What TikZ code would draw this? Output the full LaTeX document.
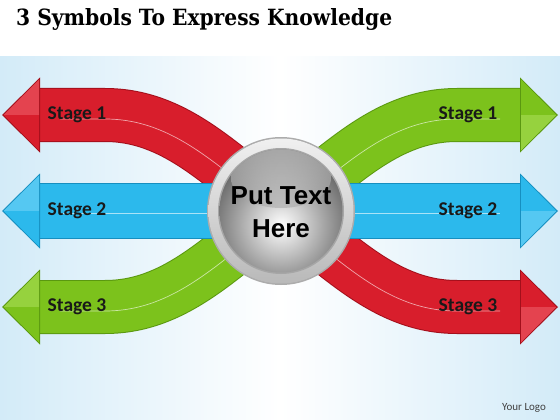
\documentclass[tikz,border=0pt]{standalone}
\usepackage{fontspec}
\usepackage{graphicx}
\setmainfont{Carlito}
\newfontfamily\titlefont{DejaVu Serif Condensed}
\newfontfamily\centerfont{Liberation Sans}
\usetikzlibrary{calc}
\definecolor{redA}{HTML}{D81E2C}
\definecolor{redL}{HTML}{E4434F}
\definecolor{redD}{HTML}{A30F1B}
\definecolor{grnA}{HTML}{7CC21C}
\definecolor{grnL}{HTML}{96D23E}
\definecolor{grnD}{HTML}{5A9810}
\definecolor{bluA}{HTML}{2CB9EC}
\definecolor{bluL}{HTML}{55C8F2}
\definecolor{bluD}{HTML}{168FC0}
\definecolor{bgblue}{HTML}{D3EBF8}
\tikzset{
  bandedge/.style={line width=54pt},
  bandfill/.style={line width=52pt},
  gloss/.style={white, opacity=0.6, line width=0.7pt},
  stagelbl/.style={font=\bfseries\fontsize{19.5}{19.5}\selectfont, text=black!90},
}
\newcommand{\headL}[5]{% tip x, y, main, light, dark
  \fill[#5] (#1-1,#2) -- (#1+37,#2-37.5) -- (#1+37,#2+37.5) -- cycle;
  \fill[#3] (#1+0.6,#2) -- (#1+36,#2-35.5) -- (#1+36,#2) -- cycle;
  \fill[#4] (#1+0.6,#2) -- (#1+36,#2) -- (#1+36,#2+35.5) -- cycle;
}
\newcommand{\headR}[5]{%
  \fill[#5] (#1+1,#2) -- (#1-37,#2-37.5) -- (#1-37,#2+37.5) -- cycle;
  \fill[#3] (#1-0.6,#2) -- (#1-36,#2-35.5) -- (#1-36,#2) -- cycle;
  \fill[#4] (#1-0.6,#2) -- (#1-36,#2) -- (#1-36,#2+35.5) -- cycle;
}
\begin{document}
\begin{tikzpicture}[x=1pt,y=-1pt]
\useasboundingbox (0,0) rectangle (560,420);
% background
\fill[white] (0,0) rectangle (560,420);
\shade[left color=bgblue, right color=bgblue, middle color=white] (0,57) rectangle (560,420);
% red band
\draw[redD, bandedge] (39,115) -- (105,115) .. controls (175,115) and (220,165) .. (281,211) .. controls (342,257) and (387,307) .. (457,307) -- (521,307);
\draw[redA, bandfill] (39,115) -- (105,115) .. controls (175,115) and (220,165) .. (281,211) .. controls (342,257) and (387,307) .. (457,307) -- (521,307);
\draw[gloss] (60,119) -- (105,119) .. controls (175,119) and (220,169) .. (281,215) .. controls (342,261) and (387,311) .. (457,311) -- (500,311);
\headL{3}{115}{redL}{redA}{redD}
\headR{557}{307}{redA}{redL}{redD}
% green band
\draw[grnD, bandedge] (521,115) -- (457,115) .. controls (387,115) and (342,165) .. (281,211) .. controls (220,257) and (175,307) .. (105,307) -- (39,307);
\draw[grnA, bandfill] (521,115) -- (457,115) .. controls (387,115) and (342,165) .. (281,211) .. controls (220,257) and (175,307) .. (105,307) -- (39,307);
\draw[gloss] (500,119) -- (457,119) .. controls (387,119) and (342,169) .. (281,215) .. controls (220,261) and (175,311) .. (105,311) -- (60,311);
\headL{3}{307}{grnL}{grnA}{grnD}
\headR{557}{115}{grnA}{grnL}{grnD}
% blue band
\fill[bluD] (39,183) rectangle (521,239);
\fill[bluA] (39,184) rectangle (521,238);
\draw[gloss] (60,213) -- (500,213);
\headL{3}{211}{bluL}{bluA}{bluD}
\headR{557}{211}{bluA}{bluL}{bluD}
% center disc
\coordinate (c) at (281,211);
\fill[gray!65] (c) circle (74);
\shade[top color=gray!12, bottom color=gray!55] (c) circle (72.5);
\fill[gray!70] (c) circle (63);
\begin{scope}
  \clip (c) circle (61.5);
  \shade[inner color=white, outer color=black!72] ($(c)+(0,14)$) circle (88);
  \shade[top color=white, bottom color=white!20!gray, opacity=0.45] (281,178) ellipse (50 and 30);
\end{scope}
% texts
\node[anchor=base west, inner sep=0pt] (title) at (16,26) {\resizebox{376pt}{17pt}{\titlefont\bfseries 3 Symbols To Express Knowledge}};
\node[align=center, font=\centerfont\bfseries\fontsize{26}{33}\selectfont, text=black] (ctext) at (281,212) {Put Text\\Here};
\node[stagelbl] (l1) at (77,115) {Stage 1};
\node[stagelbl] (l2) at (77,211) {Stage 2};
\node[stagelbl] (l3) at (77,307) {Stage 3};
\node[stagelbl] (r1) at (468,115) {Stage 1};
\node[stagelbl] (r2) at (468,211) {Stage 2};
\node[stagelbl] (r3) at (468,307) {Stage 3};
\node[font=\fontsize{11}{11}\selectfont, text=black!75] (logo) at (524,408) {Your Logo};
\end{tikzpicture}
\end{document}
